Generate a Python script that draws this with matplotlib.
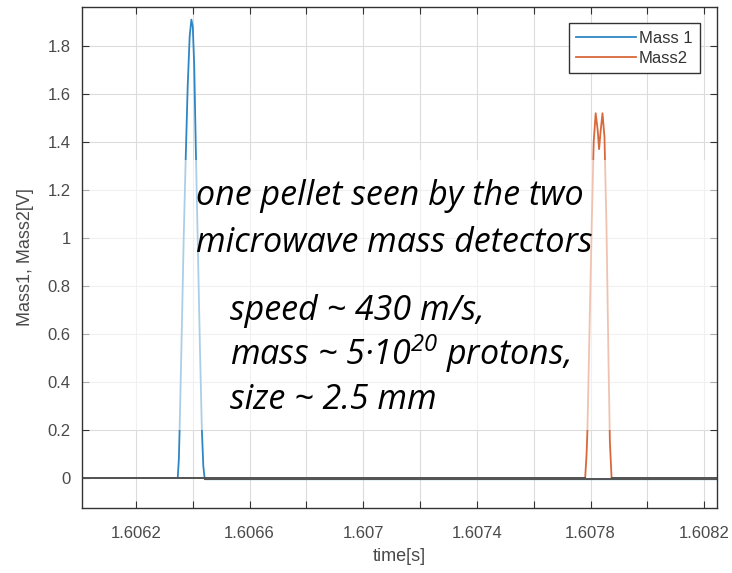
import matplotlib
matplotlib.use("Agg")
import matplotlib.pyplot as plt
import numpy as np

# ---- data ----
t_mass1 = [1.60601, 1.606347, 1.606351, 1.606354, 1.606361, 1.606368, 1.606375, 1.606382,
           1.606389, 1.606395, 1.606400, 1.606405, 1.606411, 1.606418, 1.606425, 1.606432,
           1.606437, 1.606442, 1.608245]
v_mass1 = [0.0, 0.0, 0.08, 0.22, 0.6, 1.0, 1.33, 1.63, 1.84, 1.91, 1.88, 1.72, 1.35, 0.95,
           0.55, 0.2, 0.05, -0.005, -0.005]

t_mass2 = [1.60601, 1.607781, 1.607786, 1.607789, 1.607796, 1.607804, 1.607811, 1.607818,
           1.607825, 1.607830, 1.607835, 1.607842, 1.607849, 1.607856, 1.607863, 1.607868,
           1.607874, 1.608245]
v_mass2 = [0.0, 0.0, 0.1, 0.2, 0.6, 1.05, 1.4, 1.52, 1.45, 1.37, 1.44, 1.52, 1.42, 1.05,
           0.5, 0.15, 0.0, 0.0]

xtick_vals = [1.6062, 1.6064, 1.6066, 1.6068, 1.607, 1.6072, 1.6074, 1.6076, 1.6078, 1.608, 1.6082]
xtick_labels = ['1.6062', '', '1.6066', '', '1.607', '', '1.6074', '', '1.6078', '', '1.6082']
ytick_vals = [0, 0.2, 0.4, 0.6, 0.8, 1.0, 1.2, 1.4, 1.6, 1.8]
ytick_labels = ['0', '0.2', '0.4', '0.6', '0.8', '1', '1.2', '1.4', '1.6', '1.8']

series_names = ['Mass 1', 'Mass2']
annot_title = ['one pellet seen by the two', 'microwave mass detectors']
annot_lines = ['speed ~ 430 m/s,', r'mass ~ 5·10$^{20}$ protons,', 'size ~ 2.5 mm']

plt.rcParams['mathtext.fontset'] = 'custom'
plt.rcParams['mathtext.rm'] = 'Open Sans:italic'
plt.rcParams['mathtext.it'] = 'Open Sans:italic'

fig = plt.figure(figsize=(7.32, 5.73), dpi=100)
ax = fig.add_axes([0.112, 0.1134, 0.8675, 0.8744])

c1 = '#2f86c4'
c2 = '#d9693a'
ax.plot(t_mass1, v_mass1, color=c1, lw=1.3, label=series_names[0], zorder=2)
ax.plot(t_mass2, v_mass2, color=c2, lw=1.3, label=series_names[1], zorder=2.05)

# noisy baselines appear dark grey
for t, v in ((t_mass1, v_mass1), (t_mass2, v_mass2)):
    va = np.array(v, dtype=float)
    vb = np.where(np.abs(va) < 0.01, va, np.nan)
    ax.plot(t, vb, color='#555555', lw=1.4, zorder=2.1)

ax.axhspan(0.2, 1.325, color='white', alpha=0.6, zorder=2.2, lw=0)

ax.set_xlim(1.60601, 1.608245)
ax.set_ylim(-0.125, 1.9625)
ax.set_xticks(xtick_vals)
ax.set_xticklabels(xtick_labels)
ax.set_yticks(ytick_vals)
ax.set_yticklabels(ytick_labels)
ax.grid(True, color='#dcdcdc', lw=0.8)
ax.set_axisbelow(True)
ax.tick_params(direction='in', length=5, top=True, right=True, labelsize=12,
               labelcolor='#4a4a4a', color='#333333')
ax.tick_params(axis='y', pad=8)
ax.tick_params(axis='x', pad=13)
for s in ax.spines.values():
    s.set_color('#333333')
    s.set_linewidth(1.0)

ax.set_xlabel('time[s]', fontsize=13, color='#4a4a4a', labelpad=5)
ax.set_ylabel('Mass1, Mass2[V]', fontsize=13, color='#4a4a4a', labelpad=10)
for lab in ax.get_xticklabels() + ax.get_yticklabels():
    lab.set_family('Liberation Sans')
ax.xaxis.label.set_family('Liberation Sans')
ax.yaxis.label.set_family('Liberation Sans')

leg = ax.legend(loc='upper right', bbox_to_anchor=(0.973, 0.968), fancybox=False,
                framealpha=1, edgecolor='#333333', handlelength=3.6,
                borderpad=0.45, labelspacing=0.3, handletextpad=0.15, borderaxespad=0,
                prop={'family': 'Liberation Sans', 'size': 12})
leg.get_frame().set_linewidth(1.0)
for txt in leg.get_texts():
    txt.set_color('#333333')

fs = 24.5
title_base = [205, 252]
line_base = [320, 365, 409]
for s, yb in zip(annot_title, title_base):
    fig.text(196 / 732, 1 - yb / 573, s, fontsize=fs, family='Open Sans',
             style='italic', color='black', va='baseline', zorder=5)
for s, yb in zip(annot_lines, line_base):
    fig.text(230 / 732, 1 - yb / 573, s, fontsize=fs, family='Open Sans',
             style='italic', color='black', va='baseline', zorder=5)

fig.savefig('out.png', dpi=100)
